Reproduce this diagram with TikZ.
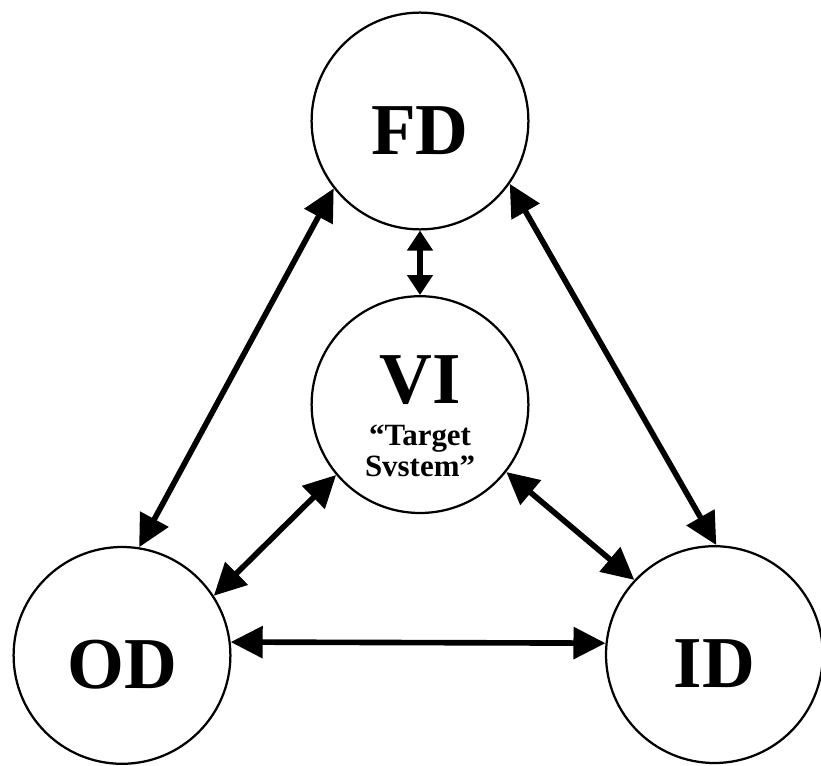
\documentclass[tikz,border=0pt]{standalone}
\usepackage{fontspec}
\setmainfont{Liberation Serif}
\usetikzlibrary{arrows.meta}

\tikzset{
  unit/.style={circle, draw, line width=1.6pt, minimum size=5.42cm, inner sep=0pt},
  big unit/.style={unit, font=\bfseries\fontsize{52}{52}\selectfont, text height=1.66cm, text depth=0pt},
  link/.style={{Triangle[length=0.8cm,width=0.78cm]}-{Triangle[length=0.8cm,width=0.78cm]}, line width=4pt},
  short link/.style={{Triangle[length=0.5cm,width=0.62cm]}-{Triangle[length=0.5cm,width=0.62cm]}, line width=4pt},
}

\begin{document}
\begin{tikzpicture}
  \useasboundingbox (0,0) rectangle (20.525,19.125);

  \node[big unit] (FD) at (10.5,16.1) {FD};
  \node[big unit] (OD) at (3.05,2.74) {OD};
  \node[big unit] (ID) at (17.86,2.76) {ID};
  \node[unit, align=center, font=\bfseries\fontsize{22}{22}\selectfont] (VI) at (10.5,9.01)
    {\rule{0pt}{50pt}{\fontsize{52}{52}\selectfont VI}\\[8pt] “Target\\ Svstem”};

  \draw[short link] (FD.south) -- (VI.north);
  \draw[link] (FD.218) -- (OD.81);
  \draw[link] (FD.325) -- (ID.89);
  \draw[link] (VI.220) -- (OD.33);
  \draw[link] (VI.322) -- (ID.137);
  \draw[link] (OD.7) -- (ID.174);
\end{tikzpicture}
\end{document}
